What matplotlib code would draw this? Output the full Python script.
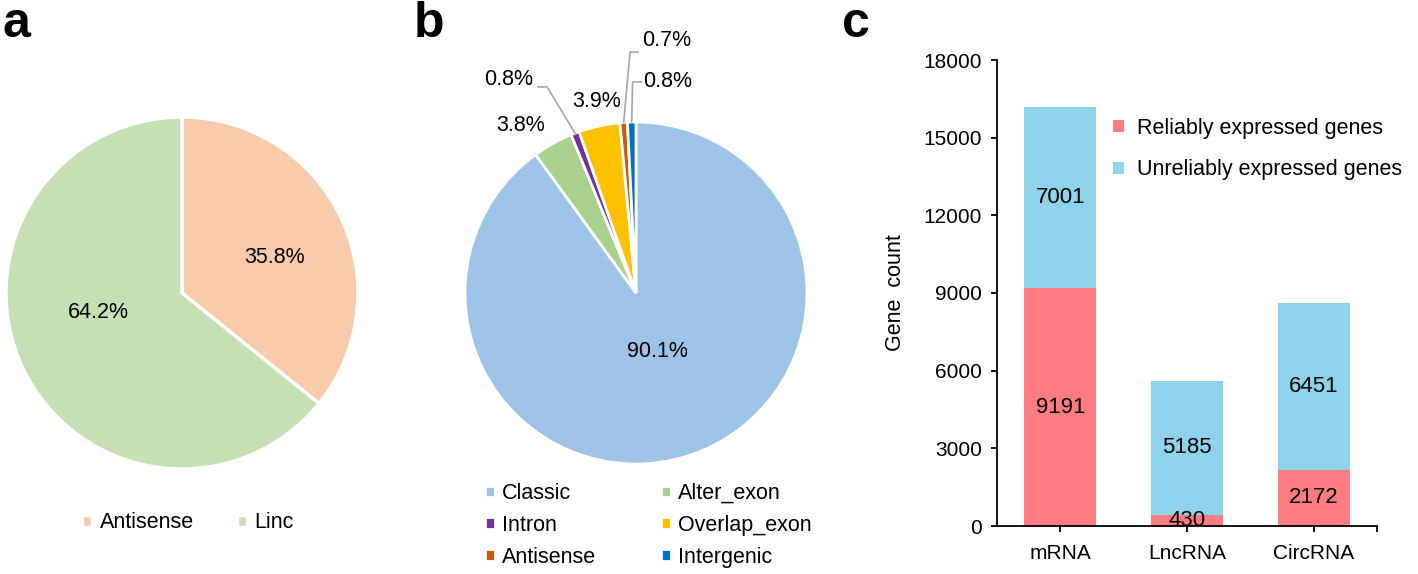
import numpy as np
import matplotlib
matplotlib.use('Agg')
import matplotlib.pyplot as plt

plt.rcParams['font.family'] = ['Liberation Sans', 'DejaVu Sans']

# Panel a data
a_labels = ['Antisense', 'Linc']
a_values = [35.8, 64.2]
a_colors = ['#F8CBAD', '#C5E0B4']

# Panel b data (clockwise from 12 o'clock)
b_labels = ['Classic', 'Alter_exon', 'Intron', 'Overlap_exon', 'Antisense', 'Intergenic']
b_values = [90.1, 3.8, 0.8, 3.9, 0.7, 0.8]
b_colors = ['#9DC3E6', '#A9D18E', '#7030A0', '#FFC000', '#C55A11', '#0070C0']

# Panel c data
c_categories = ['mRNA', 'LncRNA', 'CircRNA']
c_reliable = [9191, 430, 2172]
c_unreliable = [7001, 5185, 6451]
c_series = ['Reliably expressed genes', 'Unreliably expressed genes']
c_colors = ['#FF7C80', '#8ED3EA']

W, H = 1418, 574
FS = 15.5

fig = plt.figure(figsize=(W / 100, H / 100), dpi=100)


def px_axes(l, t, r, b):
    # axes from pixel box (left, top, right, bottom)
    return fig.add_axes([l / W, 1 - b / H, (r - l) / W, (b - t) / H])


def pie_axes(cx, cy, rad):
    ax = px_axes(cx - rad, cy - rad, cx + rad, cy + rad)
    return ax


# ---- panel a ----
ax_a = pie_axes(182, 293, 176)
wa, _ = ax_a.pie(a_values, colors=a_colors, startangle=90, counterclock=False,
                 wedgeprops=dict(edgecolor='white', linewidth=2.5))
ax_a.set_xlim(-1, 1)
ax_a.set_ylim(-1, 1)
ax_a.axis('off')
a_pos = [(0.523, 0.199), (-0.477, -0.108)]
for v, (x, y) in zip(a_values, a_pos):
    ax_a.text(x, y, f'{v:.1f}%', ha='center', va='center', fontsize=FS)

fig.legend(wa, a_labels, loc='center', bbox_to_anchor=(188 / W, 1 - 523 / H), ncol=2,
           frameon=False, fontsize=FS, handlelength=0.45, handleheight=0.45,
           handletextpad=0.35, columnspacing=2.0, borderpad=0, borderaxespad=0)

# ---- panel b ----
ax_b = pie_axes(636, 293, 171)
wb, _ = ax_b.pie(b_values, colors=b_colors, startangle=90, counterclock=False,
                 wedgeprops=dict(edgecolor='white', linewidth=2))
ax_b.set_xlim(-1, 1)
ax_b.set_ylim(-1, 1)
ax_b.axis('off')

# label placement (pie radius units)
b_text = [(0.123, -0.345, 'center'), (-0.673, 0.982, 'center'), (-0.743, 1.251, 'center'),
          (-0.228, 1.117, 'center'), (0.035, 1.474, 'left'), (0.041, 1.234, 'left')]
# leader lines: (start, elbow) or None
b_leader = [None, None, ((-0.573, 1.205), (-0.52, 1.205)), None,
            ((0.012, 1.409), (-0.035, 1.409)), ((0.03, 1.234), (-0.02, 1.234))]
for w, v, (x, y, ha), ld in zip(wb, b_values, b_text, b_leader):
    ax_b.text(x, y, f'{v:.1f}%', ha=ha, va='center', fontsize=FS, clip_on=False)
    if ld is not None:
        th = np.deg2rad((w.theta1 + w.theta2) / 2)
        tx, ty = np.cos(th) * 1.0, np.sin(th) * 1.0
        (sx, sy), (ex, ey) = ld
        ax_b.plot([sx, ex, tx], [sy, ey, ty], color='#A6A6A6', lw=1.2, clip_on=False)

order = [0, 2, 4, 1, 3, 5]
fig.legend([wb[i] for i in order], [b_labels[i] for i in order], loc='upper left',
           bbox_to_anchor=(485 / W, 1 - 483 / H), ncol=2, frameon=False, fontsize=FS,
           handlelength=0.45, handleheight=0.45, handletextpad=0.35,
           columnspacing=3.0, labelspacing=0.5, borderpad=0, borderaxespad=0)

# ---- panel c ----
ax_c = px_axes(997, 60, 1377, 526)
x = np.arange(len(c_categories))
b1 = ax_c.bar(x, c_reliable, width=0.57, color=c_colors[0], label=c_series[0])
b2 = ax_c.bar(x, c_unreliable, width=0.57, bottom=c_reliable, color=c_colors[1],
              label=c_series[1])
ax_c.bar_label(b1, label_type='center', fontsize=16)
ax_c.bar_label(b2, label_type='center', fontsize=16)
ax_c.set_xlim(-0.5, 2.5)
ax_c.set_ylim(0, 18000)
ax_c.set_yticks(np.arange(0, 18001, 3000))
ax_c.set_xticks(x)
ax_c.set_xticklabels(c_categories)
ax_c.set_xticks([2.5], minor=True)
for s in ['top', 'right']:
    ax_c.spines[s].set_visible(False)
for s in ['left', 'bottom']:
    ax_c.spines[s].set_linewidth(1.3)
ax_c.tick_params(which='both', direction='out', length=4, width=1.3, labelsize=FS - 0.5)
ax_c.tick_params(axis='y', pad=7)
ax_c.tick_params(axis='x', pad=9)
ax_c.set_ylabel('Gene  count', fontsize=FS)
ax_c.yaxis.set_label_coords(-0.24, 0.5)
ax_c.legend(loc='upper left', bbox_to_anchor=(1113 / W, 1 - 118 / H),
            bbox_transform=fig.transFigure, frameon=False, fontsize=FS,
            handlelength=0.5, handleheight=0.5, handletextpad=0.6,
            labelspacing=0.95, borderpad=0, borderaxespad=0)

# panel letters
for lx, letter in [(2, 'a'), (414, 'b'), (842, 'c')]:
    fig.text(lx / W, 1 - 37 / H, letter, fontsize=36, fontweight='bold', va='baseline')

fig.savefig('out.png', dpi=100)
